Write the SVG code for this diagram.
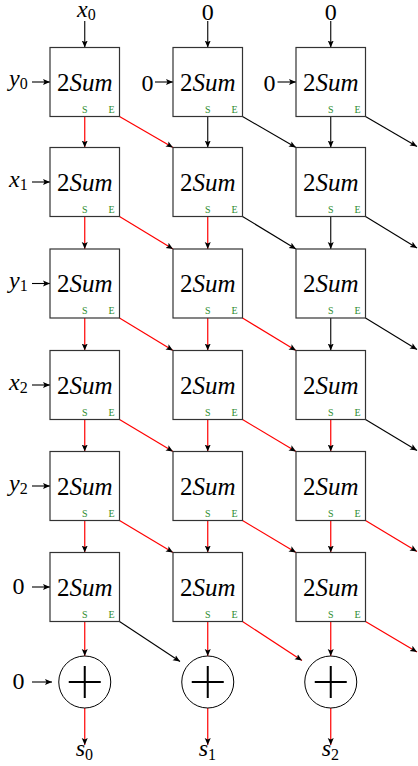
<svg xmlns="http://www.w3.org/2000/svg" width="418" height="766" viewBox="0 0 418 766">
<rect width="418" height="766" fill="#fff"/>
<text x="10" y="-100" font-family="Liberation Serif" font-size="24">Liberation Serif</text>
<defs>
<marker id="ah" markerUnits="userSpaceOnUse" markerWidth="10" markerHeight="8" refX="7" refY="4" orient="auto">
<path d="M0,1 L7,4 L0,7 L1.5,4 Z" fill="#000"/>
</marker>
</defs>

<g id="connectors" fill="none" marker-end="url(#ah)">
<g stroke="#000" stroke-width="1.1">
<path d="M84.75,21 V47.5"/>
<path d="M207.75,21 V47.5"/>
<path d="M330.75,21 V47.5"/>
<path d="M32,82 H50"/>
<path d="M155,82 H173"/>
<path d="M277.5,82 H296"/>
<path d="M32,182 H50"/>
<path d="M32,283.5 H50"/>
<path d="M32,385 H50"/>
<path d="M32,486 H50"/>
<path d="M32,587 H50"/>
<path d="M32,682 H52"/>
<path d="M207.75,116.5 V147.5"/>
<path d="M330.75,116.5 V147.5"/>
<path d="M330.75,216.5 V249"/>
<path d="M330.75,318 V350.5"/>
<path d="M119.5,621.5 L180,661.5"/>
<path d="M242.5,116.5 L296,147.5"/>
<path d="M242.5,216.5 L296,249"/>
<path d="M365.5,116.5 L417,146.5"/>
<path d="M365.5,216.5 L417,248"/>
<path d="M365.5,318 L417,349.5"/>
<path d="M365.5,419.5 L417,450.5"/>
</g>
<g stroke="#f00" stroke-width="1.2">
<path d="M84.75,116.5 V147.5"/>
<path d="M84.75,216.5 V249"/>
<path d="M84.75,318 V350.5"/>
<path d="M84.75,419.5 V451.5"/>
<path d="M84.75,520.5 V552.5"/>
<path d="M84.75,621.5 V656"/>
<path d="M207.75,216.5 V249"/>
<path d="M207.75,318 V350.5"/>
<path d="M207.75,419.5 V451.5"/>
<path d="M207.75,520.5 V552.5"/>
<path d="M207.75,621.5 V656"/>
<path d="M330.75,419.5 V451.5"/>
<path d="M330.75,520.5 V552.5"/>
<path d="M330.75,621.5 V656"/>
<path d="M119.5,116.5 L173,147.5"/>
<path d="M119.5,216.5 L173,249"/>
<path d="M119.5,318 L173,350.5"/>
<path d="M119.5,419.5 L173,451.5"/>
<path d="M119.5,520.5 L173,552.5"/>
<path d="M242.5,318 L296,350.5"/>
<path d="M242.5,419.5 L296,451.5"/>
<path d="M242.5,520.5 L296,552.5"/>
<path d="M242.5,621.5 L302,660.5"/>
<path d="M365.5,520.5 L417,551.5"/>
<path d="M365.5,621.5 L417,652"/>
<path d="M84.75,708 V745"/>
<path d="M207.75,708 V745"/>
<path d="M330.75,708 V745"/>
</g>
</g>

<g id="labels" font-family="Liberation Serif" font-size="24" fill="#000">
<text font-family="Liberation Serif" font-size="24" x="77" y="17"><tspan font-style="italic">x</tspan><tspan font-size="16" dy="2.5">0</tspan></text>
<text font-family="Liberation Serif" font-size="24" x="207.75" y="20" text-anchor="middle">0</text>
<text font-family="Liberation Serif" font-size="24" x="330.75" y="20" text-anchor="middle">0</text>
<text font-family="Liberation Serif" font-size="24" x="9" y="86"><tspan font-style="italic">y</tspan><tspan font-size="16" dy="3">0</tspan></text>
<text font-family="Liberation Serif" font-size="24" x="9" y="186.5"><tspan font-style="italic">x</tspan><tspan font-size="16" dy="3">1</tspan></text>
<text font-family="Liberation Serif" font-size="24" x="9" y="288"><tspan font-style="italic">y</tspan><tspan font-size="16" dy="3">1</tspan></text>
<text font-family="Liberation Serif" font-size="24" x="9" y="389.5"><tspan font-style="italic">x</tspan><tspan font-size="16" dy="3">2</tspan></text>
<text font-family="Liberation Serif" font-size="24" x="9" y="490.5"><tspan font-style="italic">y</tspan><tspan font-size="16" dy="3">2</tspan></text>
<text font-family="Liberation Serif" font-size="24" x="24.5" y="594" text-anchor="end">0</text>
<text font-family="Liberation Serif" font-size="24" x="24.5" y="689" text-anchor="end">0</text>
<text font-family="Liberation Serif" font-size="24" x="153.5" y="90.5" text-anchor="end">0</text>
<text font-family="Liberation Serif" font-size="24" x="275.5" y="90.5" text-anchor="end">0</text>
<text font-family="Liberation Serif" font-size="24" x="75.75" y="756"><tspan font-style="italic">s</tspan><tspan font-size="16" dy="3.5">0</tspan></text>
<text font-family="Liberation Serif" font-size="24" x="198.75" y="756"><tspan font-style="italic">s</tspan><tspan font-size="16" dy="3.5">1</tspan></text>
<text font-family="Liberation Serif" font-size="24" x="321.75" y="756"><tspan font-style="italic">s</tspan><tspan font-size="16" dy="3.5">2</tspan></text>
</g>

<g id="n11"><rect fill="#fff" stroke="#333" stroke-width="1.2" x="50" y="47.5" width="69.5" height="69"/><text font-family="Liberation Serif" font-size="25" text-anchor="middle" x="84.75" y="90.5">2<tspan font-style="italic">Sum</tspan></text><text font-family="Liberation Serif" font-size="10" fill="#2e8b2e" text-anchor="middle" x="84.75" y="112.5">S</text><text font-family="Liberation Serif" font-size="10" fill="#2e8b2e" text-anchor="middle" x="111.5" y="112.5">E</text></g>
<g id="n12"><rect fill="#fff" stroke="#333" stroke-width="1.2" x="173" y="47.5" width="69.5" height="69"/><text font-family="Liberation Serif" font-size="25" text-anchor="middle" x="207.75" y="90.5">2<tspan font-style="italic">Sum</tspan></text><text font-family="Liberation Serif" font-size="10" fill="#2e8b2e" text-anchor="middle" x="207.75" y="112.5">S</text><text font-family="Liberation Serif" font-size="10" fill="#2e8b2e" text-anchor="middle" x="234.5" y="112.5">E</text></g>
<g id="n13"><rect fill="#fff" stroke="#333" stroke-width="1.2" x="296" y="47.5" width="69.5" height="69"/><text font-family="Liberation Serif" font-size="25" text-anchor="middle" x="330.75" y="90.5">2<tspan font-style="italic">Sum</tspan></text><text font-family="Liberation Serif" font-size="10" fill="#2e8b2e" text-anchor="middle" x="330.75" y="112.5">S</text><text font-family="Liberation Serif" font-size="10" fill="#2e8b2e" text-anchor="middle" x="357.5" y="112.5">E</text></g>
<g id="n21"><rect fill="#fff" stroke="#333" stroke-width="1.2" x="50" y="147.5" width="69.5" height="69"/><text font-family="Liberation Serif" font-size="25" text-anchor="middle" x="84.75" y="190.5">2<tspan font-style="italic">Sum</tspan></text><text font-family="Liberation Serif" font-size="10" fill="#2e8b2e" text-anchor="middle" x="84.75" y="212.5">S</text><text font-family="Liberation Serif" font-size="10" fill="#2e8b2e" text-anchor="middle" x="111.5" y="212.5">E</text></g>
<g id="n22"><rect fill="#fff" stroke="#333" stroke-width="1.2" x="173" y="147.5" width="69.5" height="69"/><text font-family="Liberation Serif" font-size="25" text-anchor="middle" x="207.75" y="190.5">2<tspan font-style="italic">Sum</tspan></text><text font-family="Liberation Serif" font-size="10" fill="#2e8b2e" text-anchor="middle" x="207.75" y="212.5">S</text><text font-family="Liberation Serif" font-size="10" fill="#2e8b2e" text-anchor="middle" x="234.5" y="212.5">E</text></g>
<g id="n23"><rect fill="#fff" stroke="#333" stroke-width="1.2" x="296" y="147.5" width="69.5" height="69"/><text font-family="Liberation Serif" font-size="25" text-anchor="middle" x="330.75" y="190.5">2<tspan font-style="italic">Sum</tspan></text><text font-family="Liberation Serif" font-size="10" fill="#2e8b2e" text-anchor="middle" x="330.75" y="212.5">S</text><text font-family="Liberation Serif" font-size="10" fill="#2e8b2e" text-anchor="middle" x="357.5" y="212.5">E</text></g>
<g id="n31"><rect fill="#fff" stroke="#333" stroke-width="1.2" x="50" y="249" width="69.5" height="69"/><text font-family="Liberation Serif" font-size="25" text-anchor="middle" x="84.75" y="292">2<tspan font-style="italic">Sum</tspan></text><text font-family="Liberation Serif" font-size="10" fill="#2e8b2e" text-anchor="middle" x="84.75" y="314">S</text><text font-family="Liberation Serif" font-size="10" fill="#2e8b2e" text-anchor="middle" x="111.5" y="314">E</text></g>
<g id="n32"><rect fill="#fff" stroke="#333" stroke-width="1.2" x="173" y="249" width="69.5" height="69"/><text font-family="Liberation Serif" font-size="25" text-anchor="middle" x="207.75" y="292">2<tspan font-style="italic">Sum</tspan></text><text font-family="Liberation Serif" font-size="10" fill="#2e8b2e" text-anchor="middle" x="207.75" y="314">S</text><text font-family="Liberation Serif" font-size="10" fill="#2e8b2e" text-anchor="middle" x="234.5" y="314">E</text></g>
<g id="n33"><rect fill="#fff" stroke="#333" stroke-width="1.2" x="296" y="249" width="69.5" height="69"/><text font-family="Liberation Serif" font-size="25" text-anchor="middle" x="330.75" y="292">2<tspan font-style="italic">Sum</tspan></text><text font-family="Liberation Serif" font-size="10" fill="#2e8b2e" text-anchor="middle" x="330.75" y="314">S</text><text font-family="Liberation Serif" font-size="10" fill="#2e8b2e" text-anchor="middle" x="357.5" y="314">E</text></g>
<g id="n41"><rect fill="#fff" stroke="#333" stroke-width="1.2" x="50" y="350.5" width="69.5" height="69"/><text font-family="Liberation Serif" font-size="25" text-anchor="middle" x="84.75" y="393.5">2<tspan font-style="italic">Sum</tspan></text><text font-family="Liberation Serif" font-size="10" fill="#2e8b2e" text-anchor="middle" x="84.75" y="415.5">S</text><text font-family="Liberation Serif" font-size="10" fill="#2e8b2e" text-anchor="middle" x="111.5" y="415.5">E</text></g>
<g id="n42"><rect fill="#fff" stroke="#333" stroke-width="1.2" x="173" y="350.5" width="69.5" height="69"/><text font-family="Liberation Serif" font-size="25" text-anchor="middle" x="207.75" y="393.5">2<tspan font-style="italic">Sum</tspan></text><text font-family="Liberation Serif" font-size="10" fill="#2e8b2e" text-anchor="middle" x="207.75" y="415.5">S</text><text font-family="Liberation Serif" font-size="10" fill="#2e8b2e" text-anchor="middle" x="234.5" y="415.5">E</text></g>
<g id="n43"><rect fill="#fff" stroke="#333" stroke-width="1.2" x="296" y="350.5" width="69.5" height="69"/><text font-family="Liberation Serif" font-size="25" text-anchor="middle" x="330.75" y="393.5">2<tspan font-style="italic">Sum</tspan></text><text font-family="Liberation Serif" font-size="10" fill="#2e8b2e" text-anchor="middle" x="330.75" y="415.5">S</text><text font-family="Liberation Serif" font-size="10" fill="#2e8b2e" text-anchor="middle" x="357.5" y="415.5">E</text></g>
<g id="n51"><rect fill="#fff" stroke="#333" stroke-width="1.2" x="50" y="451.5" width="69.5" height="69"/><text font-family="Liberation Serif" font-size="25" text-anchor="middle" x="84.75" y="494.5">2<tspan font-style="italic">Sum</tspan></text><text font-family="Liberation Serif" font-size="10" fill="#2e8b2e" text-anchor="middle" x="84.75" y="516.5">S</text><text font-family="Liberation Serif" font-size="10" fill="#2e8b2e" text-anchor="middle" x="111.5" y="516.5">E</text></g>
<g id="n52"><rect fill="#fff" stroke="#333" stroke-width="1.2" x="173" y="451.5" width="69.5" height="69"/><text font-family="Liberation Serif" font-size="25" text-anchor="middle" x="207.75" y="494.5">2<tspan font-style="italic">Sum</tspan></text><text font-family="Liberation Serif" font-size="10" fill="#2e8b2e" text-anchor="middle" x="207.75" y="516.5">S</text><text font-family="Liberation Serif" font-size="10" fill="#2e8b2e" text-anchor="middle" x="234.5" y="516.5">E</text></g>
<g id="n53"><rect fill="#fff" stroke="#333" stroke-width="1.2" x="296" y="451.5" width="69.5" height="69"/><text font-family="Liberation Serif" font-size="25" text-anchor="middle" x="330.75" y="494.5">2<tspan font-style="italic">Sum</tspan></text><text font-family="Liberation Serif" font-size="10" fill="#2e8b2e" text-anchor="middle" x="330.75" y="516.5">S</text><text font-family="Liberation Serif" font-size="10" fill="#2e8b2e" text-anchor="middle" x="357.5" y="516.5">E</text></g>
<g id="n61"><rect fill="#fff" stroke="#333" stroke-width="1.2" x="50" y="552.5" width="69.5" height="69"/><text font-family="Liberation Serif" font-size="25" text-anchor="middle" x="84.75" y="595.5">2<tspan font-style="italic">Sum</tspan></text><text font-family="Liberation Serif" font-size="10" fill="#2e8b2e" text-anchor="middle" x="84.75" y="617.5">S</text><text font-family="Liberation Serif" font-size="10" fill="#2e8b2e" text-anchor="middle" x="111.5" y="617.5">E</text></g>
<g id="n62"><rect fill="#fff" stroke="#333" stroke-width="1.2" x="173" y="552.5" width="69.5" height="69"/><text font-family="Liberation Serif" font-size="25" text-anchor="middle" x="207.75" y="595.5">2<tspan font-style="italic">Sum</tspan></text><text font-family="Liberation Serif" font-size="10" fill="#2e8b2e" text-anchor="middle" x="207.75" y="617.5">S</text><text font-family="Liberation Serif" font-size="10" fill="#2e8b2e" text-anchor="middle" x="234.5" y="617.5">E</text></g>
<g id="n63"><rect fill="#fff" stroke="#333" stroke-width="1.2" x="296" y="552.5" width="69.5" height="69"/><text font-family="Liberation Serif" font-size="25" text-anchor="middle" x="330.75" y="595.5">2<tspan font-style="italic">Sum</tspan></text><text font-family="Liberation Serif" font-size="10" fill="#2e8b2e" text-anchor="middle" x="330.75" y="617.5">S</text><text font-family="Liberation Serif" font-size="10" fill="#2e8b2e" text-anchor="middle" x="357.5" y="617.5">E</text></g>
<g id="add1"><circle fill="#fff" stroke="#000" stroke-width="1" cx="84.75" cy="682" r="26"/><path fill="none" stroke="#000" stroke-width="2" d="M68.75,682 H100.75 M84.75,666 V698"/></g>
<g id="add2"><circle fill="#fff" stroke="#000" stroke-width="1" cx="207.75" cy="682" r="26"/><path fill="none" stroke="#000" stroke-width="2" d="M191.75,682 H223.75 M207.75,666 V698"/></g>
<g id="add3"><circle fill="#fff" stroke="#000" stroke-width="1" cx="330.75" cy="682" r="26"/><path fill="none" stroke="#000" stroke-width="2" d="M314.75,682 H346.75 M330.75,666 V698"/></g>
</svg>
